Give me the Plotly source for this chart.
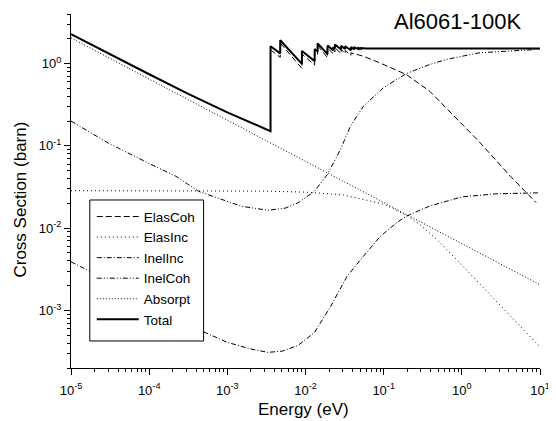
import plotly.graph_objects as go

# ---------------- data ----------------
elascoh_E = [3.57e-3, 4.75e-3, 4.75e-3, 9.0e-3, 9.0e-3, 13.1e-3, 13.1e-3, 14.3e-3, 14.3e-3,
             19.1e-3, 19.1e-3, 22.6e-3, 22.6e-3, 23.8e-3, 23.8e-3, 28.6e-3, 28.6e-3,
             32.2e-3, 32.2e-3, 38.1e-3, 38.1e-3, 0.0562, 0.0891, 0.195, 0.389, 0.724,
             1.0, 1.585, 2.69, 3.98, 6.46, 8.9]
elascoh_S = [1.47, 1.19, 1.78, 0.87, 1.30, 0.96, 1.39, 1.29, 1.65,
             1.18, 1.54, 1.32, 1.45, 1.38, 1.56, 1.32, 1.48,
             1.32, 1.44, 1.26, 1.35, 1.22, 1.02, 0.735, 0.46, 0.25,
             0.185, 0.118, 0.068, 0.045, 0.028, 0.0205]

elasinc_E = [1e-5, 1e-4, 1e-3, 3e-3, 1e-2, 3e-2, 0.1, 0.2, 0.3, 0.5, 1, 2, 3, 5, 10]
elasinc_S = [0.0285, 0.0285, 0.0284, 0.0282, 0.0274, 0.0254, 0.0196, 0.0142, 0.0108,
             0.0070, 0.00356, 0.00178, 0.00119, 0.00071, 0.00036]

inelinc_E = [1e-5, 3e-5, 1e-4, 3e-4, 1e-3, 2e-3, 3.3e-3, 5e-3, 8e-3, 1.3e-2, 2.1e-2,
             3.4e-2, 5.5e-2, 9e-2, 0.146, 0.195, 0.385, 1.0, 2.7, 10]
inelinc_S = [0.0039, 0.0023, 0.00125, 0.00068, 0.00041, 0.00034, 0.00031, 0.00032,
             0.000375, 0.00054, 0.00112, 0.0026, 0.00455, 0.0079, 0.0116, 0.014,
             0.0185, 0.024, 0.0261, 0.0269]

inelcoh_E = [1e-5, 3e-5, 1e-4, 2.2e-4, 4.3e-4, 8.5e-4, 1.5e-3, 3.3e-3, 5.5e-3, 8e-3,
             1.3e-2, 1.9e-2, 2.8e-2, 3.75e-2, 5.5e-2, 9.9e-2, 0.195, 0.385, 0.63,
             1.66, 4.4, 10]
inelcoh_S = [0.2, 0.108, 0.061, 0.0427, 0.028, 0.0223, 0.0185, 0.0165, 0.0175, 0.0203,
             0.028, 0.0448, 0.090, 0.173, 0.303, 0.507, 0.756, 0.97, 1.12,
             1.35, 1.44, 1.49]

absorpt_E = [1e-5, 1e-4, 1e-3, 1e-2, 1e-1, 1, 10]
absorpt_S = [2.05, 0.65, 0.205, 0.065, 0.0205, 0.0065, 0.00205]

total_E = [1e-5, 3.16e-5, 1e-4, 3.16e-4, 1e-3, 3.57e-3, 3.57e-3, 4.75e-3, 4.75e-3,
           9.0e-3, 9.0e-3, 13.1e-3, 13.1e-3, 14.3e-3, 14.3e-3, 19.1e-3, 19.1e-3,
           22.6e-3, 22.6e-3, 23.8e-3, 23.8e-3, 28.6e-3, 28.6e-3, 32.2e-3, 32.2e-3,
           38.1e-3, 38.1e-3, 42.3e-3, 42.3e-3, 47.6e-3, 47.6e-3, 51.2e-3, 51.2e-3,
           0.06, 0.1, 1, 10]
total_S = [2.28, 1.29, 0.741, 0.429, 0.255, 0.151, 1.62, 1.33, 1.92,
           0.99, 1.42, 1.07, 1.50, 1.40, 1.76, 1.30, 1.66,
           1.45, 1.58, 1.52, 1.70, 1.48, 1.64, 1.50, 1.62,
           1.45, 1.58, 1.49, 1.57, 1.50, 1.55, 1.51, 1.54,
           1.52, 1.52, 1.52, 1.52]

x_tickvals = [1e-5, 1e-4, 1e-3, 1e-2, 1e-1, 1, 10]
x_ticktext = ["10<sup>-5</sup>", "10<sup>-4</sup>", "10<sup>-3</sup>", "10<sup>-2</sup>",
              "10<sup>-1</sup>", "10<sup>0</sup>", "10<sup>1</sup>"]
y_tickvals = [1e-3, 1e-2, 1e-1, 1]
y_ticktext = ["10<sup>-3</sup>", "10<sup>-2</sup>", "10<sup>-1</sup>", "10<sup>0</sup>"]

title_text = "Al6061-100K"
x_title = "Energy (eV)"
y_title = "Cross Section (barn)"

# ---------------- figure ----------------
FONT = "Arial, Liberation Sans, sans-serif"
fig = go.Figure()

series = [
    ("ElasCoh", elascoh_E, elascoh_S, dict(color="black", width=1, dash="6px,3px")),
    ("ElasInc", elasinc_E, elasinc_S, dict(color="black", width=1, dash="1px,3px")),
    ("InelInc", inelinc_E, inelinc_S, dict(color="black", width=1, dash="5px,2px,1px,2px")),
    ("InelCoh", inelcoh_E, inelcoh_S, dict(color="black", width=1, dash="5px,2px,1px,2px,1px,2px")),
    ("Absorpt", absorpt_E, absorpt_S, dict(color="black", width=1, dash="1px,2px")),
    ("Total", total_E, total_S, dict(color="black", width=2)),
]
for name, xs, ys, ln in series:
    fig.add_trace(go.Scatter(x=xs, y=ys, mode="lines", name=name, line=ln))

minor_x = [k * 10.0 ** d for d in range(-5, 1) for k in range(2, 10)]
minor_y = [k * 10.0 ** d for d in range(-4, 1) for k in range(2, 10)]

fig.update_xaxes(
    type="log", range=[-5, 1], showline=True, linecolor="black", linewidth=1,
    mirror=False, showgrid=False, zeroline=False,
    tickmode="array", tickvals=x_tickvals, ticktext=x_ticktext,
    ticks="outside", ticklen=6, tickwidth=1, tickcolor="black",
    ticklabelstandoff=4,
    tickfont=dict(family=FONT, size=13, color="black"),
    minor=dict(tickmode="array", tickvals=minor_x, ticks="outside", ticklen=3,
               tickwidth=1, tickcolor="black", showgrid=False),
)
fig.update_yaxes(
    type="log", range=[-3.699, 0.602], showline=True, linecolor="black", linewidth=1,
    mirror=False, showgrid=False, zeroline=False,
    tickmode="array", tickvals=y_tickvals, ticktext=y_ticktext,
    ticks="outside", ticklen=6, tickwidth=1, tickcolor="black",
    tickfont=dict(family=FONT, size=13, color="black"),
    minor=dict(tickmode="array", tickvals=minor_y, ticks="outside", ticklen=3,
               tickwidth=1, tickcolor="black", showgrid=False),
)

# legend box (white, covers curves beneath)
fig.add_shape(type="rect", xref="paper", yref="paper",
              x0=0.0401, x1=0.2827, y0=0.0763, y1=0.4746,
              fillcolor="white", line=dict(color="black", width=1), layer="above")

fig.add_annotation(text=title_text, xref="paper", yref="paper", x=0.825, y=0.978,
                   xanchor="center", yanchor="middle", showarrow=False,
                   font=dict(family=FONT, size=22, color="black"))
fig.add_annotation(text=x_title, xref="paper", yref="paper", x=0.496, y=-0.116,
                   xanchor="center", yanchor="middle", showarrow=False,
                   font=dict(family=FONT, size=17, color="black"))
fig.add_annotation(text=y_title, xref="paper", yref="paper", x=-0.1076, y=0.4746,
                   xanchor="center", yanchor="middle", showarrow=False, textangle=-90,
                   font=dict(family=FONT, size=17, color="black"))

# the page body has an 8px default margin, so the figure is drawn 8px smaller
fig.update_layout(
    width=548, height=413,
    margin=dict(l=63, r=11, t=6, b=53),
    plot_bgcolor="white", paper_bgcolor="white",
    showlegend=True,
    legend=dict(x=0.0443, y=0.471, xanchor="left", yanchor="top",
                bgcolor="rgba(0,0,0,0)", borderwidth=0, itemwidth=42,
                font=dict(family=FONT, size=13.5, color="black"),
                tracegroupgap=0),
)

fig.write_html("out.html")
